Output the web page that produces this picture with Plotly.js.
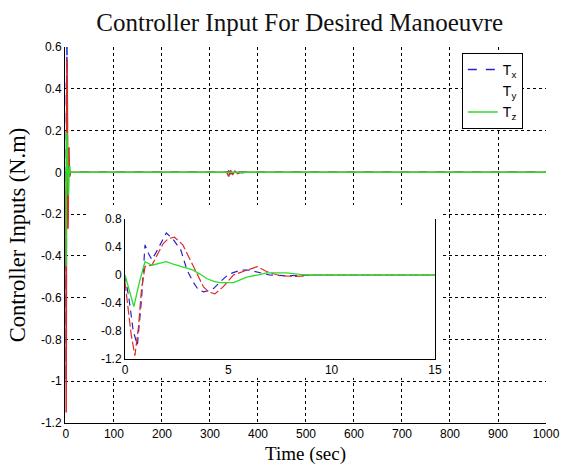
<!DOCTYPE html>
<html>
<head>
<meta charset="utf-8">
<script src="https://cdn.plot.ly/plotly-3.0.1.min.js"></script>
<style>html,body{margin:0;padding:0;background:#fff;}#chart{width:562px;height:466px;}</style>
</head>
<body>
<div id="chart"></div>
<script>
// Transient response (seconds)
const timeTx = [0, 0.2, 0.4, 0.6, 0.8, 0.97, 1.15, 1.3, 1.5, 1.8, 2.0, 2.3, 2.7, 3.0, 3.3, 3.55, 3.8, 4.1, 4.3, 4.6, 4.9, 5.2, 5.6, 6.0, 6.5, 7.0, 8.0, 9.0, 15];
const Tx     = [0, -0.35, -0.8, -1.0, -0.35, 0.43, 0.3, 0.22, 0.32, 0.5, 0.6, 0.52, 0.36, 0.07, -0.1, -0.21, -0.24, -0.22, -0.19, -0.1, -0.02, 0.03, 0.07, 0.07, 0.03, 0.0, -0.01, 0, 0];

const timeTy = [0, 0.15, 0.3, 0.48, 0.65, 0.8, 0.97, 1.3, 1.6, 1.85, 2.1, 2.4, 2.8, 3.05, 3.3, 3.55, 3.8, 4.05, 4.35, 4.75, 5.25, 5.9, 6.4, 6.85, 7.5, 8.3, 9.1, 10.7, 15];
const Ty     = [-0.1, -0.45, -0.85, -1.15, -0.75, -0.2, 0.12, 0.14, 0.3, 0.45, 0.52, 0.54, 0.43, 0.28, 0.12, -0.03, -0.17, -0.24, -0.27, -0.17, 0.0, 0.07, 0.12, 0.05, -0.01, -0.02, 0, 0, 0];

const timeTz = [0, 0.2, 0.43, 0.7, 0.97, 1.3, 1.6, 2.0, 2.3, 2.65, 3.0, 3.3, 3.65, 3.95, 4.3, 4.6, 5.25, 5.6, 5.9, 6.4, 6.85, 7.8, 8.8, 15];
const Tz     = [0, -0.2, -0.45, -0.1, 0.19, 0.14, 0.16, 0.19, 0.16, 0.13, 0.1, 0.07, 0.01, -0.05, -0.09, -0.11, -0.11, -0.07, -0.03, 0.0, 0.03, 0.03, 0, 0];

// Long-run tail (small disturbance near 340 s), then settled to 1000 s
const tailTime = [335, 339, 343, 347, 352, 358, 366, 375, 1000];
const tailTx   = [0, 0.006, -0.006, 0.005, -0.004, 0.004, -0.002, 0, 0];
const tailTy   = [0, -0.02, 0.01, -0.012, 0.006, -0.006, 0.003, 0, 0];
const tailTz   = [0, 0, 0, 0, 0, 0, 0, 0, 0];

const seriesNames = ['T<sub>x</sub>', 'T<sub>y</sub>', 'T<sub>z</sub>'];

const mainYTicks = [0.6, 0.4, 0.2, 0, -0.2, -0.4, -0.6, -0.8, -1, -1.2];
const mainYText  = ['0.6', '0.4', '0.2', '0', '-0.2', '-0.4', '-0.6', '-0.8', '-1', '-1.2'];
const mainXTicks = [0, 100, 200, 300, 400, 500, 600, 700, 800, 900, 1000];
const insetYTicks = [0.8, 0.4, 0, -0.4, -0.8, -1.2];
const insetYText  = ['0.8', '0.4', '0', '-0.4', '-0.8', '-1.2'];
const insetXTicks = [0, 5, 10, 15];

const cBlue = '#2424c8', cRed = '#e02828', cGreen = '#2edc2e';
const serif = 'Liberation Serif, Times New Roman, serif';

const traces = [
  // main plot
  {x: timeTx.concat(tailTime), y: Tx.concat(tailTx), xaxis: 'x', yaxis: 'y', mode: 'lines',
   line: {color: cBlue, width: 1.5, dash: 'dash'}, name: seriesNames[0], showlegend: true},
  {x: timeTy.concat(tailTime), y: Ty.concat(tailTy), xaxis: 'x', yaxis: 'y', mode: 'lines',
   line: {color: cRed, width: 1.5}, name: seriesNames[1], showlegend: false},
  {x: [null], y: [null], xaxis: 'x', yaxis: 'y', mode: 'lines',
   line: {color: 'rgba(0,0,0,0)', width: 1}, name: seriesNames[1], showlegend: true, hoverinfo: 'skip'},
  {x: timeTz.concat(tailTime), y: Tz.concat(tailTz), xaxis: 'x', yaxis: 'y', mode: 'lines',
   line: {color: cGreen, width: 1.5}, name: seriesNames[2], showlegend: true},
  // blank white backing panel behind the inset (covers main grid under inset labels)
  {x: [null], y: [null], xaxis: 'x2', yaxis: 'y2', mode: 'lines', showlegend: false, hoverinfo: 'skip'},
  // inset
  {x: timeTx, y: Tx, xaxis: 'x3', yaxis: 'y3', mode: 'lines',
   line: {color: cBlue, width: 1.2, dash: '7px,5px'}, showlegend: false},
  {x: timeTy, y: Ty, xaxis: 'x3', yaxis: 'y3', mode: 'lines',
   line: {color: cRed, width: 1.2, dash: '9px,3px'}, showlegend: false},
  {x: timeTz, y: Tz, xaxis: 'x3', yaxis: 'y3', mode: 'lines',
   line: {color: cGreen, width: 1.3}, showlegend: false}
];

const layout = {
  width: 562, height: 466,
  margin: {l: 65, r: 16, t: 47, b: 43},
  paper_bgcolor: '#fff', plot_bgcolor: '#fff',
  showlegend: true,
  font: {family: 'Liberation Sans, Arial, sans-serif', size: 12, color: '#000'},
  title: {text: 'Controller Input For Desired Manoeuvre', x: 0.488, xref: 'paper', xanchor: 'center',
          y: 0.953, yref: 'container', yanchor: 'middle',
          font: {family: serif, size: 25, color: '#111'}},
  xaxis: {domain: [0, 1], range: [-2, 1000], tickvals: mainXTicks, ticktext: mainXTicks.map(String),
          showline: true, linecolor: '#000', linewidth: 1, mirror: false, layer: 'below traces',
          showgrid: true, gridcolor: '#000', gridwidth: 1, griddash: '3px,3px',
          zeroline: false, ticks: '', tickfont: {size: 12},
          title: {text: 'Time (sec)', standoff: 6, font: {family: serif, size: 19}}},
  yaxis: {domain: [0, 1], range: [-1.2, 0.6], tickvals: mainYTicks, ticktext: mainYText,
          showline: true, linecolor: '#000', linewidth: 1, mirror: false, layer: 'below traces',
          showgrid: true, gridcolor: '#000', gridwidth: 1, griddash: '3px,3px',
          zeroline: false, ticks: '', tickfont: {size: 12},
          title: {text: 'Controller Inputs (N.m)', standoff: 9, font: {family: serif, size: 22.5}}},
  xaxis2: {domain: [0.048, 0.78], anchor: 'y2', range: [0, 1], visible: false, showgrid: false, zeroline: false},
  yaxis2: {domain: [0.12, 0.58], anchor: 'x2', range: [0, 1], visible: false, showgrid: false, zeroline: false},
  xaxis3: {domain: [0.1247, 0.769], anchor: 'y3', range: [0, 15], tickvals: insetXTicks, ticktext: insetXTicks.map(String),
           showline: true, linecolor: '#000', linewidth: 1, mirror: false, showgrid: false, zeroline: false,
           ticks: '', tickfont: {size: 12}},
  yaxis3: {domain: [0.170, 0.5426], anchor: 'x3', range: [-1.2, 0.8], tickvals: insetYTicks, ticktext: insetYText,
           showline: true, linecolor: '#000', linewidth: 1, mirror: true, showgrid: false, zeroline: false,
           ticks: '', tickfont: {size: 12}},
  legend: {x: 0.825, xanchor: 'left', y: 0.984, yanchor: 'top', bgcolor: '#fff', bordercolor: '#000', borderwidth: 1,
           font: {family: 'Liberation Sans, Arial, sans-serif', size: 14}, tracegroupgap: 0, entrywidth: 70}
};

Plotly.newPlot('chart', traces, layout, {displayModeBar: false, staticPlot: true});
</script>
</body>
</html>
